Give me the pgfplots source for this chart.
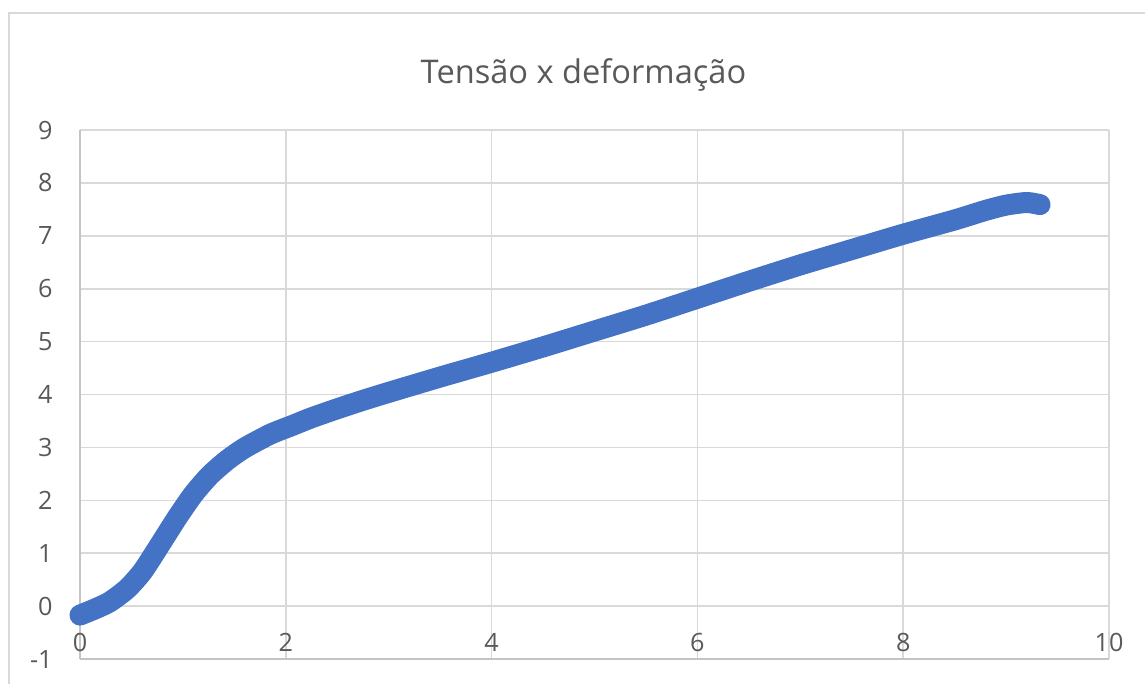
\documentclass[border=0pt]{standalone}
\usepackage{pgfplots}
\pgfplotsset{compat=1.18}
\usepackage{fontspec}
\setmainfont{Open Sans}
\definecolor{txt}{HTML}{595959}
\definecolor{grd}{HTML}{D9D9D9}
\definecolor{axl}{HTML}{C4C4C4}
\definecolor{ser}{HTML}{4472C4}
\begin{document}
\begin{tikzpicture}
\useasboundingbox (0,0) rectangle (572.5bp,-342bp);
\clip (0,0) rectangle (572.5bp,-342bp);
% chart area frame
\draw[grd, line width=1bp] (4.5bp,-6.5bp) rectangle (620bp,-420bp);
\node[anchor=base, text=txt, inner sep=0pt, font=\fontsize{16.3bp}{20bp}\selectfont]
  at (291.75bp,-41.7bp) {Tensão x deformação};
\begin{axis}[
  at={(40bp,-329.5bp)}, anchor=south west,
  scale only axis, width=514.5bp, height=264.5bp,
  xmin=0, xmax=10, ymin=-1, ymax=9,
  xtick={0,2,...,10}, ytick={-1,0,...,9},
  major tick length=0pt,
  axis lines*=left,
  axis line style={axl, line width=0.9bp},
  grid=major, major grid style={grd, line width=0.8bp},
  clip=false,
  /pgf/number format/assume math mode=true,
  tick label style={text=txt, font=\fontsize{12.6bp}{15bp}\selectfont},
  yticklabel style={anchor=east, inner sep=0pt, xshift=-13.5bp},
  xticklabel style={anchor=center, inner sep=0pt, yshift=8.5bp},
]
\addplot[ser, line width=10.5bp, line cap=round, line join=round, smooth, tension=0.4]
coordinates {
(0,-0.17) (0.15,-0.05) (0.29,0.08) (0.46,0.33) (0.61,0.66) (0.78,1.17)
(0.94,1.66) (1.10,2.11) (1.26,2.47) (1.43,2.76) (1.60,2.99) (1.85,3.25)
(2.07,3.42) (2.25,3.56) (2.5,3.73) (2.75,3.89) (3.0,4.04) (3.5,4.33)
(4.0,4.61) (4.5,4.90) (5.0,5.20) (5.5,5.50) (6.0,5.82) (6.5,6.14)
(7.0,6.45) (7.5,6.74) (8.0,7.03) (8.5,7.30) (8.8,7.48) (9.0,7.58)
(9.2,7.63) (9.33,7.59)
};
\end{axis}
\end{tikzpicture}
\end{document}
